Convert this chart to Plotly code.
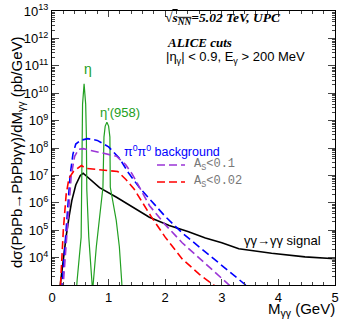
import plotly.graph_objects as go

# ---------------- data ----------------
bkg_x = [0.17, 0.22, 0.27, 0.32, 0.37, 0.42, 0.5, 0.63, 0.8, 1.0, 1.2, 1.35,
         1.55, 1.72, 2.0, 2.3, 2.6, 2.9, 3.2, 3.45]
bkg_y = [6e2, 2e4, 6e5, 1e7, 6e7, 1.4e8, 1.9e8, 2.2e8, 1.9e8, 1.1e8, 4e7, 1.25e7,
         3.5e6, 1.4e6, 3.2e5, 8e4, 2.5e4, 8e3, 2.5e3, 9e2]

as01_x = [0.19, 0.24, 0.29, 0.34, 0.4, 0.47, 0.55, 0.7, 0.9, 1.14, 1.3, 1.42,
          1.72, 2.0, 2.3, 2.7, 3.09, 3.25]
as01_y = [6e2, 2e4, 6e5, 1e7, 5e7, 9e7, 9.5e7, 8e7, 6.6e7, 5e7, 2.5e7, 1.1e7,
          8e5, 1.6e5, 3.5e4, 6.3e3, 1.2e3, 6e2]

as002_x = [0.15, 0.2, 0.25, 0.3, 0.38, 0.45, 0.52, 0.6, 0.8, 1.0, 1.16, 1.31,
           1.45, 1.6, 1.75, 2.0, 2.3, 2.6, 2.9, 3.0]
as002_y = [1e3, 1e5, 2e6, 8e6, 1.4e7, 1.8e7, 2.3e7, 1.8e7, 1.6e7, 1.5e7, 1.4e7, 7e6,
           3.2e6, 1e6, 3.2e5, 5.6e4, 9e3, 2.5e3, 9e2, 6e2]

sig_x = [0.14, 0.2, 0.25, 0.3, 0.35, 0.42, 0.5, 0.55, 0.65, 0.84, 1.14, 1.43,
         1.72, 2.07, 2.4, 2.71, 3.0, 3.3, 3.88, 4.47, 4.82, 4.9, 5.0]
sig_y = [8e2, 1e4, 6e4, 3e5, 1.2e6, 4.5e6, 1e7, 1.2e7, 8e6, 3.6e6, 1.6e6, 7e5,
         3e5, 1.5e5, 9e4, 5.2e4, 3.5e4, 2.1e4, 1.45e4, 1.07e4, 1e4, 9.4e3, 9.1e3]

res_x = [0.42, 0.444, 0.515, 0.525, 0.53, 0.54, 0.567, 0.595, 0.607, 0.615,
         0.65, 0.71, 0.717, 0.783, 0.83, 0.9, 0.918, 0.94, 0.97, 1.0, 1.023,
         1.03, 1.135, 1.19, 1.23, 1.25]
res_y = [3e2, 1.5e3, 5.6e4, 3e6, 3e8, 4e9, 2.2e10, 4e9, 3e8, 3e6,
         5.6e4, 1.5e3, 6e2, 2.5e4, 2.3e5, 3.7e6, 2.5e8, 6.3e8, 8.7e8, 6.3e8, 2.5e8,
         3.7e6, 2.3e5, 2.5e4, 1.5e3, 3e2]

y_tickvals = [1e4, 1e5, 1e6, 1e7, 1e8, 1e9, 1e10, 1e11, 1e12, 1e13]
y_ticktext = ["10<sup>%d</sup>" % e for e in range(4, 14)]
x_tickvals = [0, 1, 2, 3, 4, 5]

BLUE = "#0000ff"
PURPLE = "#9b35d6"
RED = "#ff0000"
GREEN = "#22a022"
SANS = "Liberation Sans"

fig = go.Figure()
fig.add_trace(go.Scatter(x=sig_x, y=sig_y, mode="lines",
                         line=dict(color="black", width=1.6)))
fig.add_trace(go.Scatter(x=res_x, y=res_y, mode="lines",
                         line=dict(color=GREEN, width=1.2)))
fig.add_trace(go.Scatter(x=bkg_x, y=bkg_y, mode="lines",
                         line=dict(color=BLUE, width=1.6, dash="8px,4px")))
fig.add_trace(go.Scatter(x=as01_x, y=as01_y, mode="lines",
                         line=dict(color=PURPLE, width=1.6, dash="8px,4px")))
fig.add_trace(go.Scatter(x=as002_x, y=as002_y, mode="lines",
                         line=dict(color=RED, width=1.6, dash="8px,4px")))

L, R, T, B = 52, 335, 11, 285


def px(x):
    return (x - L) / (R - L)


def py(y):
    return (B - y) / (B - T)


annots = [
    dict(text="<b><i>√<span style='text-decoration:overline'>s<sub>NN</sub></span>=5.02 TeV, UPC</i></b>",
         x=px(163), y=py(19),
         xanchor="left", font=dict(family="Liberation Serif", size=13.5, color="black")),
    dict(text="<b><i>ALICE cuts</i></b>", x=px(165), y=py(42),
         xanchor="left", font=dict(family="Liberation Serif", size=13, color="black")),
    dict(text="|η<sub>γ</sub>| < 0.9, E<sub>γ</sub> > 200 MeV", x=px(164), y=py(58),
         xanchor="left", font=dict(family=SANS, size=13, color="black")),
    dict(text="η", x=px(88), y=py(69), xanchor="center",
         font=dict(family=SANS, size=14, color=GREEN)),
    dict(text="η'(958)", x=px(120), y=py(112), xanchor="center",
         font=dict(family=SANS, size=13, color=GREEN)),
    dict(text="π<sup>0</sup>π<sup>0</sup> background", x=px(122), y=py(151),
         xanchor="left", font=dict(family=SANS, size=12.5, color=BLUE)),
    dict(text="A<sub>S</sub><0.1", x=px(192), y=py(165), xanchor="left",
         font=dict(family="Liberation Mono", size=12, color="#777777")),
    dict(text="A<sub>S</sub><0.02", x=px(192), y=py(182), xanchor="left",
         font=dict(family="Liberation Mono", size=12, color="#777777")),
    dict(text="γγ→γγ signal", x=px(242), y=py(240), xanchor="left",
         font=dict(family=SANS, size=13, color="black")),
    dict(text="M<sub>γγ</sub> (GeV)", x=px(337), y=py(321), xanchor="right",
         yanchor="bottom", font=dict(family=SANS, size=15, color="black")),
    dict(text="dσ(PbPb→PbPbγγ)/dM<sub>γγ</sub> (pb/GeV)", x=px(17), y=py(152),
         textangle=-90, xanchor="center", yanchor="middle",
         font=dict(family=SANS, size=15, color="black")),
]
for a in annots:
    a.update(xref="paper", yref="paper", showarrow=False)
    if "yanchor" not in a:
        a["yanchor"] = "middle"
    fig.add_annotation(**a)

fig.add_shape(type="line", xref="paper", yref="paper", x0=px(157), x1=px(185),
              y0=py(165), y1=py(165), line=dict(color=PURPLE, width=1.6, dash="8px,4px"))
fig.add_shape(type="line", xref="paper", yref="paper", x0=px(157), x1=px(185),
              y0=py(182), y1=py(182), line=dict(color=RED, width=1.6, dash="8px,4px"))

fig.update_layout(
    width=339, height=320, autosize=False,
    margin=dict(l=L, r=339 - R, t=T, b=320 - B, autoexpand=False),
    plot_bgcolor="white", paper_bgcolor="white",
    showlegend=False,
    font=dict(family=SANS, size=13, color="black"),
)
fig.update_xaxes(range=[0, 5], tickvals=x_tickvals, ticks="inside", ticklen=6,
                 showline=True, linecolor="black", linewidth=1, mirror="ticks",
                 showgrid=False, zeroline=False, tickfont=dict(size=13),
                 automargin=False,
                 minor=dict(ticks="inside", ticklen=3, dtick=0.2, showgrid=False))
fig.update_yaxes(type="log", range=[3.002, 13.0], tickvals=y_tickvals,
                 ticktext=y_ticktext, ticks="inside", ticklen=7,
                 showline=True, linecolor="black", linewidth=1, mirror="ticks",
                 showgrid=False, zeroline=False, tickfont=dict(size=13),
                 automargin=False,
                 minor=dict(ticks="inside", ticklen=3, dtick="D1", showgrid=False))

fig.write_html("out.html", config={"displayModeBar": False},
               post_script="document.body.style.margin='0';document.body.style.padding='0';")
